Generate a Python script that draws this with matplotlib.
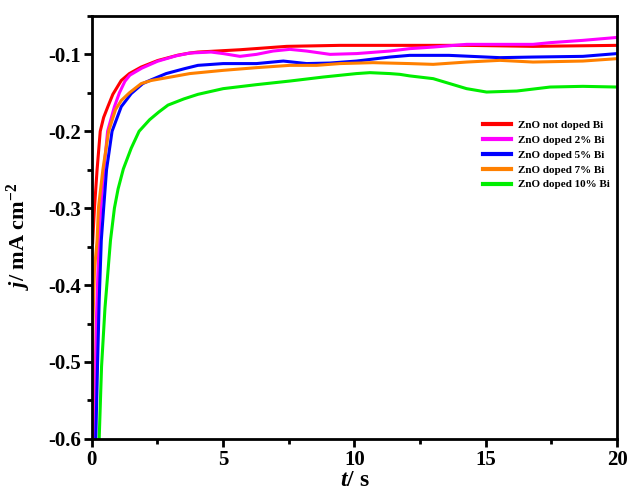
import numpy as np
import matplotlib
matplotlib.use("Agg")
import matplotlib.pyplot as plt
from matplotlib.ticker import MultipleLocator

plt.rcParams["font.family"] = ["Liberation Serif", "DejaVu Serif"]
plt.rcParams["font.weight"] = "bold"
plt.rcParams["axes.labelweight"] = "bold"
plt.rcParams["mathtext.fontset"] = "custom"
plt.rcParams["mathtext.rm"] = "Liberation Serif:bold"
plt.rcParams["mathtext.it"] = "Liberation Serif:italic:bold"
plt.rcParams["mathtext.bf"] = "Liberation Serif:bold"

# chronoamperometry curves
t_red = [0.03, 0.1, 0.2, 0.32, 0.45, 0.61, 0.8, 1.12, 1.43, 1.88, 2.51, 3.28, 3.73, 4.04,
         5.64, 7.42, 9.45, 11.73, 14.27, 16.8, 20.0]
j_red = [-0.345, -0.3, -0.25, -0.2, -0.182, -0.168, -0.152, -0.134, -0.125, -0.1165, -0.108,
         -0.101, -0.0983, -0.097, -0.094, -0.0896, -0.0883, -0.0883, -0.0883, -0.0896, -0.0883]

t_pink = [0.05, 0.07, 0.17, 0.27, 0.34, 0.46, 0.6, 0.86, 1.05, 1.26, 1.45, 1.9, 2.5, 3.2,
          3.73, 4.54, 5.0, 5.64, 6.27, 6.9, 7.54, 8.18, 9.07, 10.08, 11.35, 12.1, 13.0,
          14.27, 15.54, 16.8, 17.45, 18.7, 20.0]
j_pink = [-0.63, -0.6, -0.45, -0.342, -0.3, -0.25, -0.2, -0.168, -0.15, -0.135, -0.127,
          -0.118, -0.109, -0.102, -0.0983, -0.097, -0.099, -0.1026, -0.1, -0.0957, -0.0935,
          -0.0957, -0.1, -0.099, -0.0957, -0.0926, -0.0905, -0.087, -0.087, -0.087, -0.0848,
          -0.0818, -0.078]

t_blue = [0.12, 0.15, 0.22, 0.28, 0.36, 0.45, 0.56, 0.77, 1.12, 1.3, 1.5, 1.94, 2.2, 2.83,
          3.53, 4.04, 5.0, 6.27, 7.29, 8.18, 9.07, 10.08, 11.35, 12.1, 13.6, 15.54, 16.8,
          18.7, 20.0]
j_blue = [-0.64, -0.6, -0.5, -0.42, -0.342, -0.3, -0.25, -0.2, -0.168, -0.16, -0.151, -0.138,
          -0.134, -0.125, -0.1186, -0.1143, -0.112, -0.112, -0.1087, -0.112, -0.1113, -0.1087,
          -0.1035, -0.1013, -0.1013, -0.1043, -0.1035, -0.1026, -0.099]

t_orange = [0.02, 0.04, 0.1, 0.2, 0.25, 0.42, 0.64, 0.9, 1.12, 1.43, 1.88, 2.26, 3.0, 3.73,
            5.0, 6.27, 7.54, 8.56, 9.45, 10.7, 12.1, 13.0, 14.27, 15.54, 16.8, 18.7, 20.0]
j_orange = [-0.62, -0.45, -0.38, -0.342, -0.3, -0.25, -0.2, -0.172, -0.16, -0.15, -0.138,
            -0.134, -0.1295, -0.125, -0.1208, -0.1173, -0.1143, -0.1143, -0.112, -0.1108,
            -0.112, -0.113, -0.11, -0.1078, -0.11, -0.1087, -0.1056]

t_green = [0.25, 0.28, 0.37, 0.5, 0.71, 0.86, 1.0, 1.2, 1.5, 1.8, 2.2, 2.55, 2.9, 3.5, 4.04,
           5.0, 6.27, 7.54, 8.81, 10.08, 10.59, 11.35, 11.73, 12.1, 13.0, 14.27, 15.03, 16.18,
           17.45, 18.7, 20.0]
j_green = [-0.64, -0.6, -0.506, -0.43, -0.342, -0.3, -0.275, -0.249, -0.222, -0.2, -0.185,
           -0.175, -0.166, -0.158, -0.152, -0.1446, -0.1394, -0.1347, -0.1295, -0.125, -0.1238,
           -0.125, -0.126, -0.128, -0.1316, -0.1446, -0.149, -0.1477, -0.1425, -0.1416, -0.1425]

labels = ["ZnO not doped Bi", "ZnO doped 2% Bi", "ZnO doped 5% Bi",
          "ZnO doped 7% Bi", "ZnO doped 10% Bi"]
colors = ["#ff0000", "#ff00ff", "#0000ff", "#ff8000", "#00ee00"]
series = [(t_red, j_red), (t_pink, j_pink), (t_blue, j_blue),
          (t_orange, j_orange), (t_green, j_green)]

fig = plt.figure(figsize=(6.29, 4.97), dpi=100)
ax = fig.add_axes([0.146, 0.117, 0.835, 0.851])

for (t, j), c, lab in zip(series, colors, labels):
    ax.plot(t, j, color=c, lw=2.2, label=lab, solid_joinstyle="round")

ax.set_xlim(0, 20)
ax.set_ylim(-0.6, -0.05)
ax.xaxis.set_major_locator(MultipleLocator(5))
ax.xaxis.set_minor_locator(MultipleLocator(2.5))
ax.yaxis.set_minor_locator(MultipleLocator(0.05))
ax.set_yticks([-0.6, -0.5, -0.4, -0.3, -0.2, -0.1])
ax.set_yticklabels(["-0.6", "-0.5", "-0.4", "-0.3", "-0.2", "-0.1"])
ax.tick_params(which="major", direction="out", length=6, width=2, labelsize=15, pad=2)
ax.tick_params(which="minor", direction="out", length=3.5, width=2)
for s in ax.spines.values():
    s.set_linewidth(2)

ax.set_xlabel(r"$\mathit{t}$/ s", fontsize=17, labelpad=0)
ax.set_ylabel(r"$\mathit{j}$/ mA cm$^{-2}$", fontsize=16)
ax.yaxis.set_label_coords(-0.112, 0.48)

leg = ax.legend(loc="center left", bbox_to_anchor=(0.745, 0.671), frameon=False,
                fontsize=8, handlelength=2.5, handletextpad=0.6, labelspacing=0.45,
                borderaxespad=0, borderpad=0)
for h in leg.get_lines():
    h.set_linewidth(3)

fig.savefig("out.png", dpi=100)
